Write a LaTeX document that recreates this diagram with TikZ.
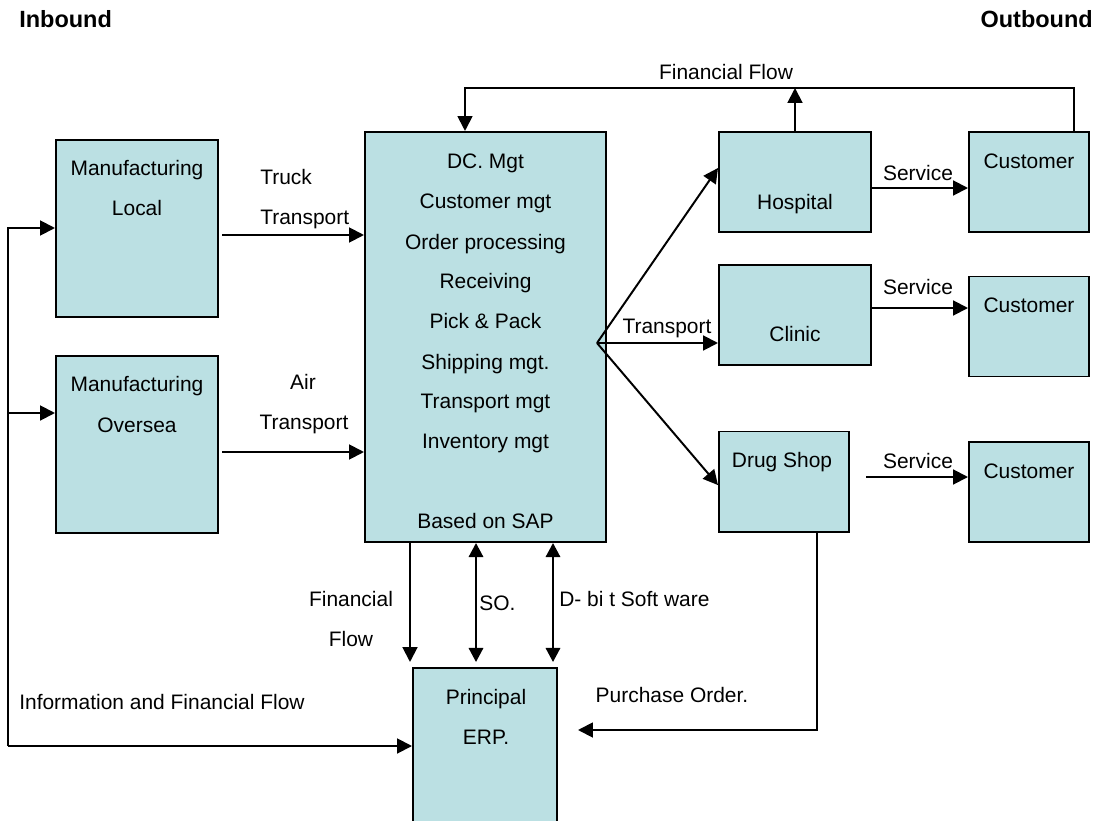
\documentclass[tikz,border=0pt]{standalone}
\usepackage{fontspec}
\setmainfont{Liberation Sans}
\usetikzlibrary{arrows.meta}

\definecolor{boxblue}{RGB}{187,224,227}

\tikzset{
  box/.style={draw, line width=1.4pt, fill=boxblue, inner sep=0pt},
  lbl/.style={inner sep=0pt, text height=10.7pt, text depth=0pt, font=\fontsize{14.9pt}{18pt}\selectfont},
  head/.style={inner sep=0pt, text height=12pt, text depth=0pt, font=\fontsize{16.7pt}{20pt}\selectfont\bfseries},
  arr/.style={line width=1.4pt, -{Triangle[length=0.37cm,width=0.37cm]}},
  twoway/.style={line width=1.4pt, {Triangle[length=0.35cm,width=0.36cm]}-{Triangle[length=0.35cm,width=0.36cm]}},
}

\begin{document}
\begin{tikzpicture}[x=0.025cm, y=-0.025cm]
  \useasboundingbox (0,0) rectangle (1099,821);
  \clip (0,0) rectangle (1099,821);

  % Headings
  \node[head, anchor=west] (inb) at (19,19) {Inbound};
  \node[head, anchor=east] (outb) at (1093,19) {Outbound};

  % Boxes
  \node[box, minimum width=4.05cm, minimum height=4.425cm] (local) at (137,228.5) {};
  \node[box, minimum width=4.05cm, minimum height=4.425cm] (oversea) at (137,444.5) {};
  \node[box, minimum width=6.025cm, minimum height=10.25cm] (dc) at (485.5,337) {};
  \node[box, minimum width=3.8cm, minimum height=2.5cm] (hosp) at (795,182) {};
  \node[box, minimum width=3.8cm, minimum height=2.5cm] (clinic) at (795,315) {};
  \node[box, minimum width=3.25cm, minimum height=2.5cm] (drug) at (784,481.5) {};
  \node[box, minimum width=3cm, minimum height=2.5cm] (cust1) at (1029,182) {};
  \node[box, minimum width=3cm, minimum height=2.5cm] (cust2) at (1029,326.5) {};
  \node[box, minimum width=3cm, minimum height=2.5cm] (cust3) at (1029,492) {};
  \node[box, minimum width=3.6cm, minimum height=4.3cm] (erp) at (485,754) {};

  % Box texts
  \node[lbl] at (137,168) {Manufacturing};
  \node[lbl] at (137,208) {Local};
  \node[lbl] at (137,384) {Manufacturing};
  \node[lbl] at (137,425) {Oversea};
  \foreach \dcline/\yy in {DC. Mgt/161, Customer mgt/201, Order processing/242,
      Receiving/281, Pick \& Pack/321, Shipping mgt./362, Transport mgt/401,
      Inventory mgt/441, Based on SAP/521}
    \node[lbl] at (485.5,\yy) {\dcline};
  \node[lbl] at (795,202) {Hospital};
  \node[lbl] at (795,334) {Clinic};
  \node[lbl] at (782,460) {Drug Shop};
  \node[lbl] at (1029,161) {Customer};
  \node[lbl] at (1029,305) {Customer};
  \node[lbl] at (1029,471) {Customer};
  \node[lbl] at (486,697) {Principal};
  \node[lbl] at (486,737) {ERP.};

  % Inbound
  \draw[arr, shorten <=0.075cm] (local.east |- 0,235) -- (dc.west |- 0,235);
  \draw[arr, shorten <=0.075cm] (oversea.east |- 0,452) -- (dc.west |- 0,452);
  \node[lbl, anchor=west] at (260,177) {Truck};
  \node[lbl, anchor=west] at (260,217) {Transport};
  \node[lbl] at (303,382) {Air};
  \node[lbl] at (304,422) {Transport};

  % Information and financial flow back to the plants
  \coordinate (corner) at (8,746);
  \coordinate (tee) at (8,413);
  \draw[arr] (corner) -- (corner -| erp.west);
  \draw[arr] (corner) |- (local.west |- 0,228);
  \draw[arr] (tee) -- (tee -| oversea.west);
  \node[lbl, anchor=west] at (19,702) {Information and Financial Flow};

  % Outbound
  \coordinate (fan) at (597,343);
  \draw[arr] (fan) -- ([yshift=0.35cm]hosp.west);
  \draw[arr] (fan) -- (fan -| clinic.west);
  \draw[arr] (fan) -- ([yshift=-0.09cm]drug.west);
  \node[lbl] at (667,326) {Transport};

  \draw[arr] (hosp.east |- 0,188) -- (cust1.west |- 0,188);
  \draw[arr] (clinic.east |- 0,308) -- (cust2.west |- 0,308);
  \draw[arr, shorten <=0.4cm] (drug.east |- 0,477) -- (cust3.west |- 0,477);
  \node[lbl] at (918,173) {Service};
  \node[lbl] at (918,287) {Service};
  \node[lbl] at (918,461) {Service};

  % Financial flow from the customers
  \coordinate (fftop) at (1074,88);
  \draw[arr] (cust1.north -| fftop) -- (fftop) -| (dc.north -| 465,0);
  \draw[arr] (hosp.north) -- (hosp.north |- fftop);
  \node[lbl] at (726,72) {Financial Flow};

  % DC to principal
  \draw[arr, shorten >=0.125cm] (dc.south -| 410,0) -- (erp.north -| 410,0);
  \draw[twoway, shorten >=0.125cm] (dc.south -| 476,0) -- (erp.north -| 476,0);
  \draw[twoway, shorten >=0.125cm] (dc.south -| 553,0) -- (erp.north -| 553,0);
  \node[lbl] at (351,599) {Financial};
  \node[lbl] at (351,639) {Flow};
  \node[lbl, anchor=west] at (479,603) {SO.};
  \node[lbl, anchor=west] at (559,599) {D- bi t Soft ware};

  % Purchase order
  \draw[arr, shorten >=0.5cm] (drug.south -| 817,0) |- (erp.east |- 0,730);
  \node[lbl] at (672,695) {Purchase Order.};
\end{tikzpicture}
\end{document}
